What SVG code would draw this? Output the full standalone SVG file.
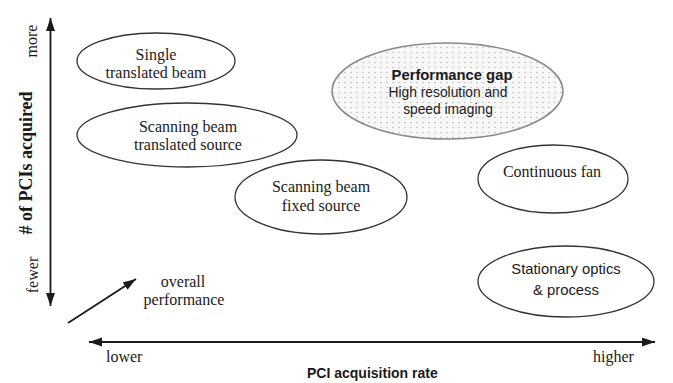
<svg xmlns="http://www.w3.org/2000/svg" width="673" height="383" viewBox="0 0 673 383">
  <style>
    .serif { font-family: "Liberation Serif", "Times New Roman", serif; fill: #1a1a1a; }
    .sans { font-family: "Liberation Sans", Arial, sans-serif; fill: #1a1a1a; }
    .node { fill: #ffffff; stroke: #333333; stroke-width: 1.3; }
    .gap { fill: url(#dots); stroke: #8a8a8a; stroke-width: 1.6; }
    .axis { fill: none; stroke: #1a1a1a; stroke-width: 1.8; }
    .lbl { font-size: 16px; text-anchor: middle; }
  </style>
  <defs>
    <pattern id="dots" width="6" height="5" patternUnits="userSpaceOnUse">
      <rect width="6" height="5" fill="#f8f8f8"/>
      <circle cx="3" cy="2.5" r="0.65" fill="#a8a8a8"/>
    </pattern>
    <marker id="arrow" markerUnits="userSpaceOnUse" markerWidth="14" markerHeight="10" refX="13" refY="4.5" orient="auto-start-reverse">
      <path d="M0,0 L13,4.5 L0,9 z" fill="#1a1a1a"/>
    </marker>
  </defs>
  <rect width="673" height="383" fill="#ffffff"/>

  <g id="connectors">
    <path class="axis" d="M50.5,306 L50.5,18" marker-start="url(#arrow)" marker-end="url(#arrow)"/>
    <path class="axis" d="M89,342 L655,342" marker-start="url(#arrow)" marker-end="url(#arrow)"/>
    <path class="axis" d="M68,323 L136,279" stroke-width="1.6" marker-end="url(#arrow)"/>
  </g>

  <g id="axis-labels">
    <text class="serif" font-size="18" font-weight="bold" text-anchor="middle" transform="translate(32,163) rotate(-90)"># of PCIs acquired</text>
    <text class="serif lbl" transform="translate(37,41) rotate(-90)">more</text>
    <text class="serif lbl" transform="translate(38,275) rotate(-90)">fewer</text>
    <text class="serif" font-size="16" x="106" y="362">lower</text>
    <text class="serif" font-size="16" x="593" y="362">higher</text>
    <text class="sans" font-size="14" font-weight="bold" x="307" y="378">PCI acquisition rate</text>
    <text class="serif lbl" x="183" y="287">overall</text>
    <text class="serif lbl" x="184" y="305">performance</text>
  </g>

  <g id="node-single">
    <ellipse class="node" cx="156" cy="61" rx="79" ry="28"/>
    <text class="serif lbl" x="156" y="60">Single</text>
    <text class="serif lbl" x="156" y="78">translated beam</text>
  </g>

  <g id="node-scan-translated">
    <ellipse class="node" cx="187" cy="135" rx="110" ry="32"/>
    <text class="serif lbl" x="188" y="132">Scanning beam</text>
    <text class="serif lbl" x="188" y="150">translated source</text>
  </g>

  <g id="node-scan-fixed">
    <ellipse class="node" cx="321" cy="197" rx="86" ry="37"/>
    <text class="serif lbl" x="321" y="192">Scanning beam</text>
    <text class="serif lbl" x="321" y="211">fixed source</text>
  </g>

  <g id="node-gap">
    <ellipse class="gap" cx="447.5" cy="91" rx="115.5" ry="48"/>
    <text class="sans" font-size="14.8" font-weight="bold" text-anchor="middle" x="452" y="80">Performance gap</text>
    <text class="sans" font-size="13.8" text-anchor="middle" x="448" y="97">High resolution and</text>
    <text class="sans" font-size="13.8" text-anchor="middle" x="448" y="114">speed imaging</text>
  </g>

  <g id="node-fan">
    <ellipse class="node" cx="553" cy="179" rx="75" ry="34"/>
    <text class="serif lbl" x="552" y="177">Continuous fan</text>
  </g>

  <g id="node-stationary">
    <ellipse class="node" cx="566" cy="281.5" rx="88" ry="35.5"/>
    <text class="sans" font-size="14.8" text-anchor="middle" x="566" y="274">Stationary optics</text>
    <text class="sans" font-size="14.8" text-anchor="middle" x="566" y="295">&amp; process</text>
  </g>
</svg>
